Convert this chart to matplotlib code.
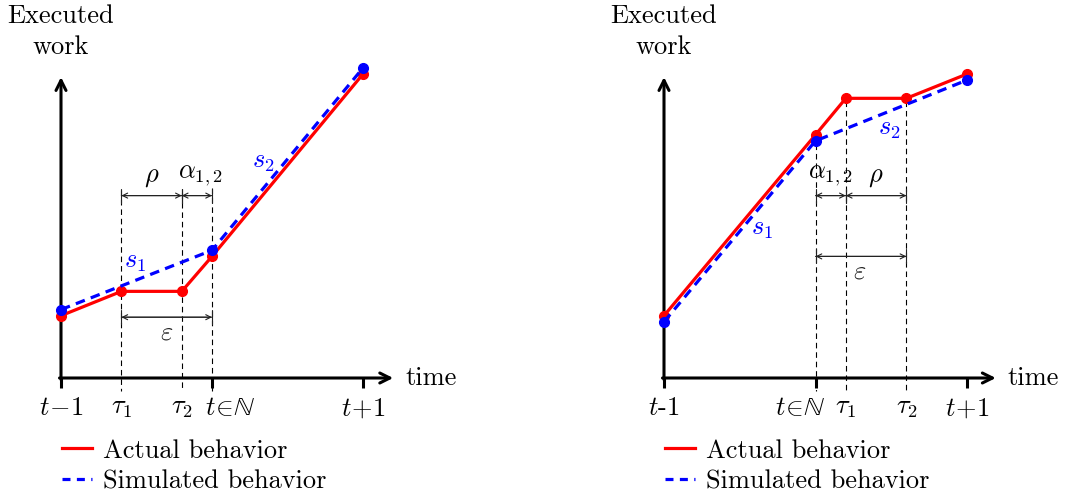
import matplotlib
matplotlib.use('Agg')
import matplotlib.pyplot as plt
from matplotlib.lines import Line2D

plt.rcParams['mathtext.fontset'] = 'cm'
plt.rcParams['font.family'] = ['cmr10', 'DejaVu Serif']
plt.rcParams['axes.formatter.use_mathtext'] = True

FS = 19

# ---- data (time in units of t, work in arbitrary units) ----
# left panel
left_actual_t = [0.0, 0.40, 0.80, 1.0, 2.0]
left_actual_w = [2.05, 2.85, 2.85, 4.0, 10.0]
left_sim_t = [0.0, 1.0, 2.0]
left_sim_w = [2.25, 4.2, 10.2]
left_ticks = [0.0, 0.40, 0.80, 1.0, 2.0]
left_ticklabels = [r'$t\!-\!1$', r'$\tau_1$', r'$\tau_2$', r'$t\!\in\!\mathbb{N}$', r'$t\!+\!1$']
left_major = [True, False, False, True, True]
left_label_shift = [0, 0, 0, 0.12, 0]

# right panel
right_actual_t = [0.0, 1.0, 1.2, 1.6, 2.0]
right_actual_w = [2.05, 8.0, 9.2, 9.2, 10.0]
right_sim_t = [0.0, 1.0, 2.0]
right_sim_w = [1.85, 7.8, 9.8]
right_ticks = [0.0, 1.0, 1.2, 1.6, 2.0]
right_ticklabels = [r'$t$-1', r'$t\!\in\!\mathbb{N}$', r'$\tau_1$', r'$\tau_2$', r'$t\!+\!1$']
right_major = [True, True, False, False, True]
right_label_shift = [0, -0.10, 0, 0, 0]

W, H = 1065, 496
fig = plt.figure(figsize=(W / 100, H / 100), dpi=100)

PX_Y = 30.4   # px per work unit
Y0 = 378      # origin row in px


def make_axes(left_px, right_px, x0_px, px_x):
    ax = fig.add_axes([left_px / W, 0, (right_px - left_px) / W, 1])
    ax.set_xlim((left_px - x0_px) / px_x, (right_px - x0_px) / px_x)
    ax.set_ylim((Y0 - H) / PX_Y, Y0 / PX_Y)
    ax.axis('off')
    return ax


def dim_arrow(ax, x1, x2, y):
    ax.annotate('', xy=(x2, y), xytext=(x1, y),
                arrowprops=dict(arrowstyle='|-|', lw=0.8, color='#222222',
                                shrinkA=0, shrinkB=0, mutation_scale=5))
    ax.annotate('', xy=(x2, y), xytext=(x1, y),
                arrowprops=dict(arrowstyle='<->', lw=0.8, color='#222222',
                                shrinkA=0, shrinkB=0, mutation_scale=9))


def vdash(ax, x, top):
    ax.plot([x, x], [top, -0.42], color='black', lw=0.8, ls=(0, (5, 3.5)), zorder=1)


def draw_frame(ax, ticks, labels, major, shifts, xmax):
    ax.annotate('', xy=(0, 9.9), xytext=(0, -0.05),
                arrowprops=dict(arrowstyle='->', lw=2.2, color='black',
                                shrinkA=0, shrinkB=0, mutation_scale=18))
    ax.annotate('', xy=(xmax, 0), xytext=(-0.01, 0),
                arrowprops=dict(arrowstyle='->', lw=2.2, color='black',
                                shrinkA=0, shrinkB=0, mutation_scale=18))
    for x, lab, m, dx in zip(ticks, labels, major, shifts):
        if m:
            ax.plot([x, x], [0, -0.33], color='black', lw=2.2, solid_capstyle='butt')
        ax.text(x + dx, -1.0, lab, fontsize=FS, ha='center', va='center')
    ax.text(0, 11.4, 'Executed\nwork', fontsize=FS, ha='center', va='center',
            linespacing=1.38)
    ax.text(xmax + 0.08, 0, 'time', fontsize=FS, ha='left', va='center')


def draw_series(ax, at, aw, st, sw):
    ax.plot(at, aw, color='red', lw=2.3, marker='o', ms=7, zorder=3)
    ax.plot(st, sw, color='blue', lw=2.3, ls=(0, (3, 2)), marker='o', ms=7, zorder=4)


def draw_legend(x_px):
    handles = [Line2D([], [], color='red', lw=2.3),
               Line2D([], [], color='blue', lw=2.3, ls=(0, (2.5, 2)))]
    fig.legend(handles, ['Actual behavior', 'Simulated behavior'],
               loc='center left', bbox_to_anchor=(x_px / W, 1 - 466 / H),
               frameon=False, fontsize=FS, handlelength=1.15, handletextpad=0.4,
               labelspacing=0.25, borderpad=0, borderaxespad=0)


# ---- left panel ----
axl = make_axes(0, 532, 61, 151)
for x, top in zip([0.40, 0.80, 1.0], [6.2, 6.1, 6.25]):
    vdash(axl, x, top)
draw_frame(axl, left_ticks, left_ticklabels, left_major, left_label_shift, 2.2)
draw_series(axl, left_actual_t, left_actual_w, left_sim_t, left_sim_w)
dim_arrow(axl, 0.40, 0.80, 6.0)
dim_arrow(axl, 0.80, 1.0, 6.0)
dim_arrow(axl, 0.40, 1.0, 2.0)
axl.text(0.60, 6.6, r'$\rho$', fontsize=FS, ha='center', va='center')
axl.text(0.92, 6.65, r'$\alpha_{1,2}$', fontsize=FS, ha='center', va='center')
axl.text(0.70, 1.5, r'$\varepsilon$', fontsize=FS, ha='center', va='center', color='#222222')
axl.text(0.49, 3.8, r'$s_1$', fontsize=FS, ha='center', va='center', color='blue')
axl.text(1.34, 7.1, r'$s_2$', fontsize=FS, ha='center', va='center', color='blue')
draw_legend(62)

# ---- right panel ----
axr = make_axes(532, 1065, 664, 151.5)
for x, top in zip([1.0, 1.2, 1.6], [7.7, 9.1, 9.1]):
    vdash(axr, x, top)
draw_frame(axr, right_ticks, right_ticklabels, right_major, right_label_shift, 2.19)
draw_series(axr, right_actual_t, right_actual_w, right_sim_t, right_sim_w)
dim_arrow(axr, 1.0, 1.2, 6.0)
dim_arrow(axr, 1.2, 1.6, 6.0)
dim_arrow(axr, 1.0, 1.6, 4.0)
axr.text(1.10, 6.65, r'$\alpha_{1,2}$', fontsize=FS, ha='center', va='center')
axr.text(1.40, 6.6, r'$\rho$', fontsize=FS, ha='center', va='center')
axr.text(1.29, 3.5, r'$\varepsilon$', fontsize=FS, ha='center', va='center', color='#222222')
axr.text(0.65, 4.9, r'$s_1$', fontsize=FS, ha='center', va='center', color='blue')
axr.text(1.49, 8.2, r'$s_2$', fontsize=FS, ha='center', va='center', color='blue')
draw_legend(665)

fig.savefig('out.png', dpi=100)
